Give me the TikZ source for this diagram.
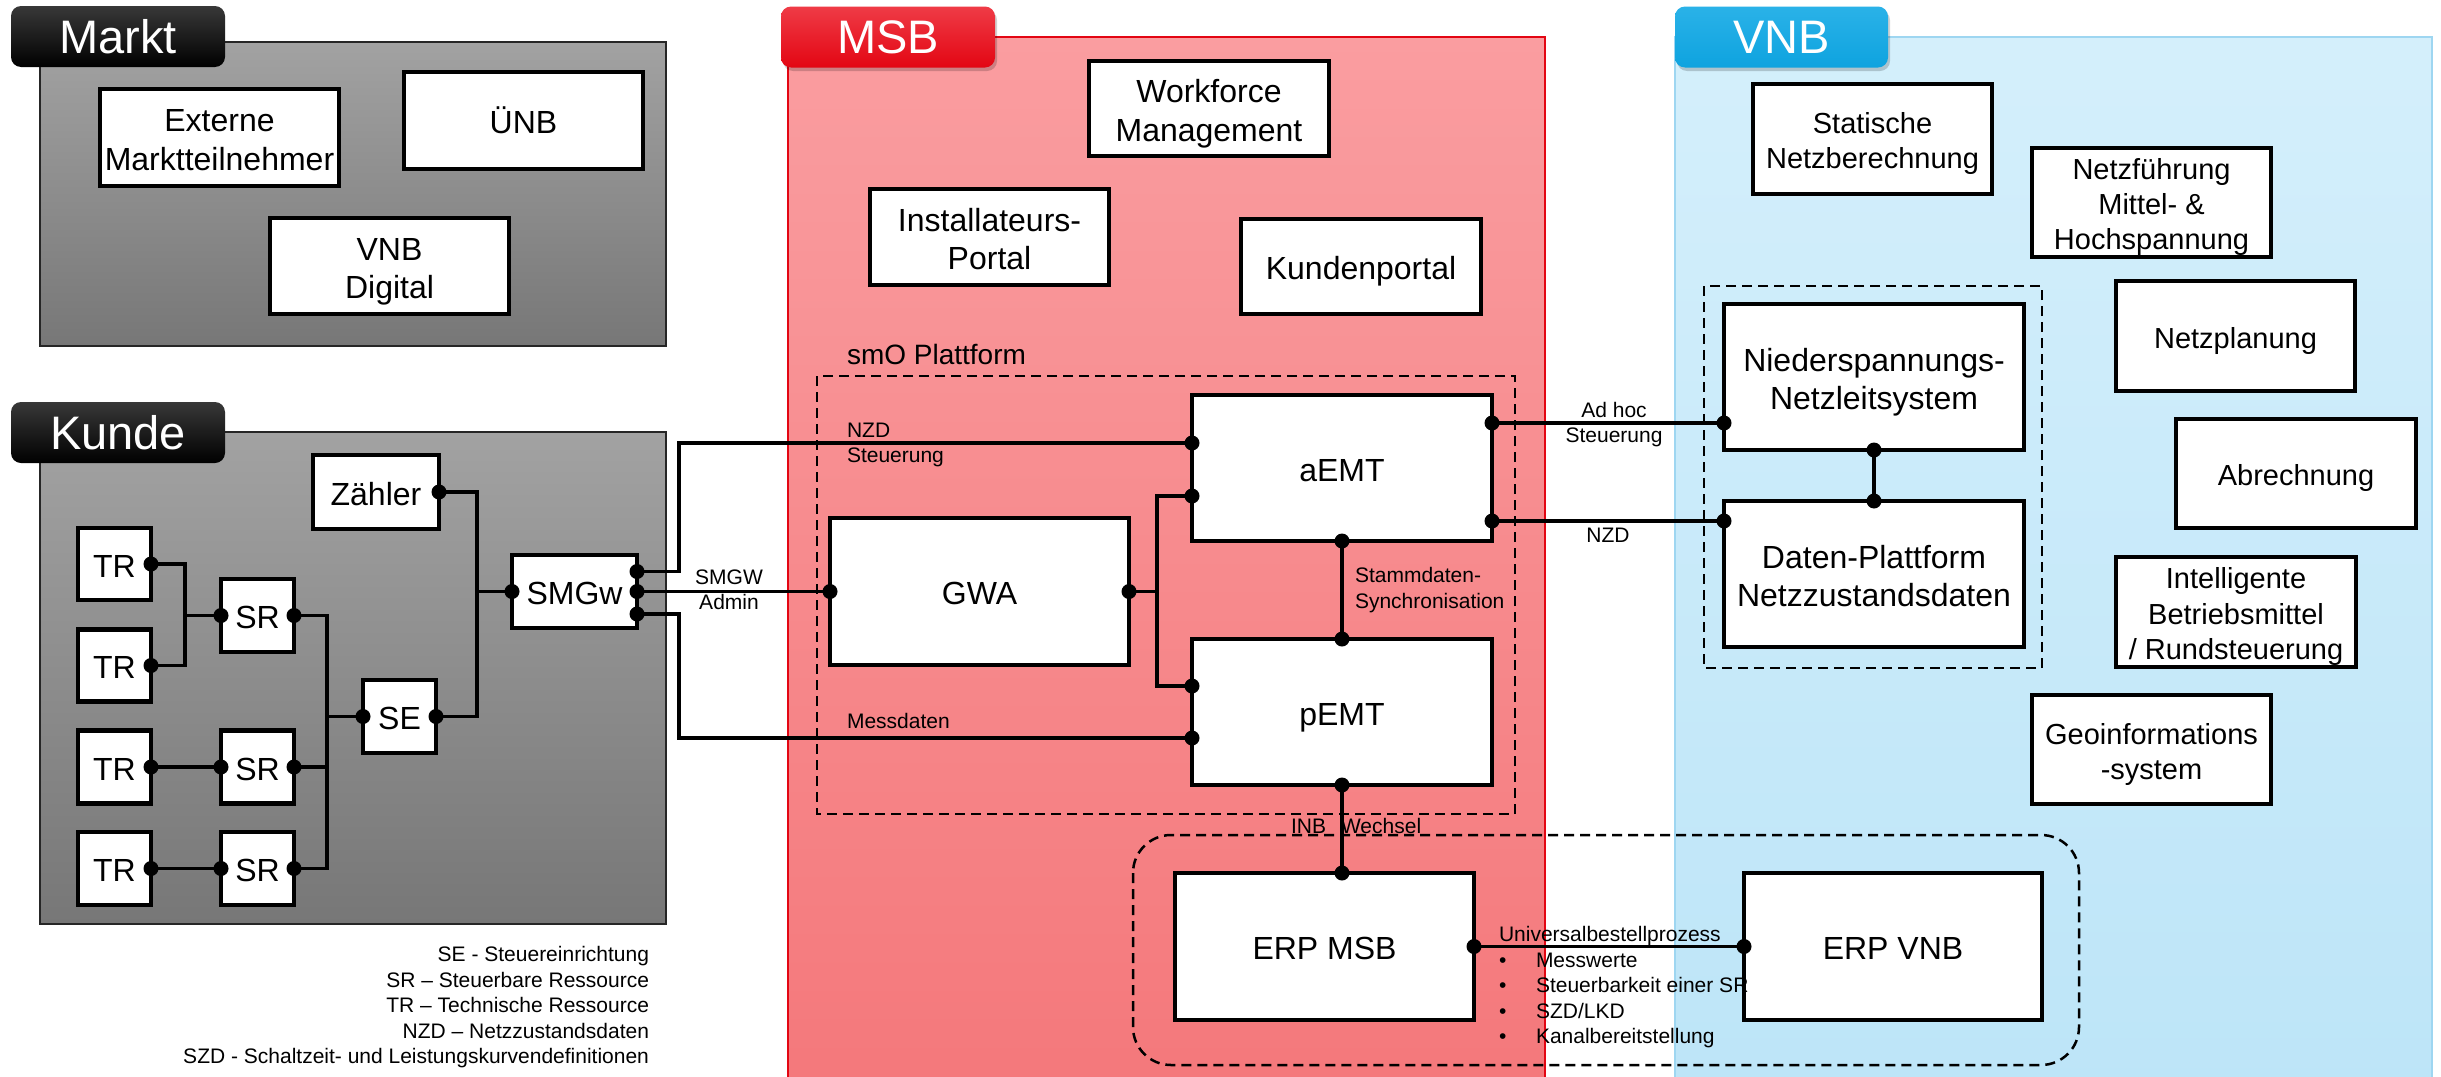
\documentclass[tikz,border=0pt]{standalone}
\usepackage{fontspec}
\setmainfont{Liberation Sans}
\usetikzlibrary{calc}
\definecolor{gT}{HTML}{A2A2A2}
\definecolor{gB}{HTML}{777777}
\definecolor{mT}{HTML}{FA9DA0}
\definecolor{mB}{HTML}{F4787B}
\definecolor{msbred}{HTML}{E30613}
\definecolor{msbredL}{HTML}{EF3B46}
\definecolor{vT}{HTML}{D4EFFB}
\definecolor{vB}{HTML}{BDE5F8}
\definecolor{vborder}{HTML}{9ED6F1}
\definecolor{vtab}{HTML}{0EA3DF}
\definecolor{vtabL}{HTML}{2AB2E8}
\newcommand\pdot[1]{\fill (#1) circle[radius=7.5pt];}
\newcommand\ts{\rule{0pt}{1.05em}}
\newcommand\ds{\rule[-0.212em]{0pt}{0.212em}}
\begin{document}
\begin{tikzpicture}[x=1pt,y=-1pt,
  tabbox/.style={rounded corners=10pt, inner sep=0pt, outer sep=0pt, text=white,
    font=\fontsize{47}{50}\selectfont, minimum height=61pt},
  tabshadow/.style={fill=black, opacity=0.18, rounded corners=10pt},
  box/.style={draw=black, line width=4.5pt, fill=white, inner sep=0pt, outer sep=0pt,
    align=center, font=\fontsize{32}{38.7}\selectfont},
  boxs/.style={box, font=\fontsize{29}{35.2}\selectfont},
  wire/.style={line width=3.5pt},
  dashbox/.style={draw=black, line width=2.5pt, dash pattern=on 10pt off 6pt},
  lbl/.style={font=\fontsize{21}{25.5}\selectfont, inner sep=0pt, outer sep=0pt},
]
\useasboundingbox (0,0) rectangle (2441,1076);
\fill[white] (0,0) rectangle (2441,1076);

% group backgrounds
\path[draw=black!85, line width=2.5pt, top color=gT, bottom color=gB] (40,42) rectangle (666,346);
\path[draw=black!85, line width=2.5pt, top color=gT, bottom color=gB] (40,432) rectangle (666,924);
\path[draw=msbred, line width=2.5pt, top color=mT, bottom color=mB] (788,37) rectangle (1545,1090);
\path[draw=vborder, line width=2.5pt, top color=vT, bottom color=vB] (1675,37) rectangle (2432,1090);

% tab shadows
\fill[tabshadow] (783,10) rectangle (997,71);
\fill[tabshadow] (1677,10) rectangle (1890,71);

% tabs
\node[tabbox, minimum width=214pt, top color=black!78, bottom color=black] (tmarkt) at (118,36.5) {Markt};
\node[tabbox, minimum width=214pt, top color=black!78, bottom color=black] (tkunde) at (118,432.5) {Kunde};
\node[tabbox, minimum width=214pt, top color=msbredL, bottom color=msbred] (tmsb) at (888,37) {MSB};
\node[tabbox, minimum width=213pt, top color=vtabL, bottom color=vtab] (tvnb) at (1781.5,37) {VNB};

% dashed groupings
\draw[dashbox] (817,376) rectangle (1515,814);
\draw[dashbox] (1704,286) rectangle (2042,668);
\draw[dashbox, rounded corners=38pt] (1133,835) rectangle (2079,1065);

% Markt boxes
\node[box, minimum width=239pt, minimum height=97pt] (ext) at (219.5,137.5) {\ts Externe\\Marktteilnehmer\ds};
\node[box, minimum width=239pt, minimum height=97pt] (uenb) at (523.5,120.5) {\ts ÜNB\ds};
\node[box, minimum width=239pt, minimum height=96pt] (vnbd) at (389.5,266) {\ts VNB\\Digital\ds};

% Kunde boxes
\node[box, minimum width=126pt, minimum height=74pt] (zaehler) at (376,492) {\ts Zähler\ds};
\node[box, minimum width=73pt, minimum height=72pt] (tr1) at (114.5,564) {\ts TR\ds};
\node[box, minimum width=73pt, minimum height=72pt] (tr2) at (114.5,665.5) {\ts TR\ds};
\node[box, minimum width=73pt, minimum height=73pt] (tr3) at (114.5,767) {\ts TR\ds};
\node[box, minimum width=73pt, minimum height=73pt] (tr4) at (114.5,868.5) {\ts TR\ds};
\node[box, minimum width=73pt, minimum height=73pt] (sr1) at (257.5,615.5) {\ts SR\ds};
\node[box, minimum width=73pt, minimum height=73pt] (sr2) at (257.5,767) {\ts SR\ds};
\node[box, minimum width=73pt, minimum height=73pt] (sr3) at (257.5,868.5) {\ts SR\ds};
\node[box, minimum width=73pt, minimum height=73pt] (se) at (399.5,716.5) {\ts SE\ds};
\node[box, minimum width=125pt, minimum height=73pt] (smgw) at (574.5,591.5) {\ts SMGw\ds};

% MSB boxes
\node[box, minimum width=240pt, minimum height=95pt] (wfm) at (1209,108.5) {\ts Workforce\\Management\ds};
\node[box, minimum width=239pt, minimum height=96pt] (inst) at (989.5,237) {\ts Installateurs-\\Portal\ds};
\node[box, minimum width=240pt, minimum height=95pt] (kp) at (1361,266.5) {\ts Kundenportal\ds};
\node[box, minimum width=300pt, minimum height=146pt] (aemt) at (1342,468) {\ts aEMT\ds};
\node[box, minimum width=299pt, minimum height=147pt] (gwa) at (979.5,591.5) {\ts GWA\ds};
\node[box, minimum width=300pt, minimum height=146pt] (pemt) at (1342,712) {\ts pEMT\ds};
\node[box, minimum width=299pt, minimum height=147pt] (erpm) at (1324.5,946.5) {\ts ERP MSB\ds};

% VNB boxes
\node[boxs, minimum width=239pt, minimum height=110pt] (stat) at (1872.5,139) {\ts Statische\\Netzberechnung\ds};
\node[boxs, minimum width=239pt, minimum height=109pt] (nf) at (2151.5,202.5) {\ts Netzführung\\Mittel- \&\\Hochspannung\ds};
\node[boxs, minimum width=239pt, minimum height=110pt] (np) at (2235.5,336) {\ts Netzplanung\ds};
\node[box, minimum width=300pt, minimum height=146pt] (ns) at (1874,377) {\ts Niederspannungs-\\Netzleitsystem\ds};
\node[box, minimum width=300pt, minimum height=146pt] (dp) at (1874,574) {\ts Daten-Plattform\\Netzzustandsdaten\ds};
\node[boxs, minimum width=240pt, minimum height=109pt] (abr) at (2296,473.5) {\ts Abrechnung\ds};
\node[boxs, minimum width=240pt, minimum height=110pt] (intel) at (2236,612) {\ts Intelligente\\Betriebsmittel\\/ Rundsteuerung\ds};
\node[boxs, minimum width=239pt, minimum height=109pt] (geo) at (2151.5,749.5) {\ts Geoinformations\\-system\ds};
\node[box, minimum width=298pt, minimum height=147pt] (erpv) at (1893,946.5) {\ts ERP VNB\ds};

% coordinates for connectors
\coordinate (k1) at (185,615.5);
\coordinate (k2) at (327,716.5);
\coordinate (k3) at (477,591.5);
\coordinate (s1) at ($(smgw.east)+(0,-20)$);
\coordinate (s3) at ($(smgw.east)+(0,22.5)$);
\coordinate (a1) at ($(aemt.west)+(0,-25)$);
\coordinate (a2) at ($(aemt.west)+(0,28)$);
\coordinate (p1) at ($(pemt.west)+(0,-26)$);
\coordinate (p2) at ($(pemt.west)+(0,26)$);
\coordinate (kx) at (679,591.5);
\coordinate (gx) at (1157,591.5);
\coordinate (a3) at ($(aemt.east)+(0,-45)$);
\coordinate (a4) at ($(aemt.east)+(0,53)$);
\coordinate (n1) at (a3 -| ns.west);
\coordinate (d1) at (a4 -| dp.west);
\coordinate (e1) at (pemt.south |- erpm.north);
\coordinate (sr2j) at (sr2.east -| k2);

% Kunde wiring
\draw[wire] (tr1.east) -| (k1) |- (tr2.east);
\draw[wire] (k1) -- (sr1.west);
\draw[wire] (sr1.east) -| (k2) |- (sr3.east);
\draw[wire] (sr2.east) -- (sr2j);
\draw[wire] (k2) -- (se.west);
\draw[wire] (tr3.east) -- (sr2.west);
\draw[wire] (tr4.east) -- (sr3.west);
\draw[wire] (se.east) -| (k3) |- (zaehler.east);
\draw[wire] (k3) -- (smgw.west);

% SMGw to MSB
\draw[wire] (s1) -| (kx |- a1) -- (a1);
\draw[wire] (smgw.east) -- (gwa.west);
\draw[wire] (s3) -| (kx |- p2) -- (p2);
\draw[wire] (gwa.east) -- (gx);
\draw[wire] (a2) -| (gx) |- (p1);
\draw[wire] (aemt.south) -- (pemt.north);
\draw[wire] (pemt.south) -- (e1);
\draw[wire] (a3) -- (n1);
\draw[wire] (a4) -- (d1);
\draw[wire] (ns.south) -- (dp.north);
\draw[wire] (erpm.east) -- (erpv.west);

% dots
\foreach \p in {tr1.east,tr2.east,tr3.east,tr4.east,sr1.west,sr1.east,sr2.west,sr2.east,
  sr3.west,sr3.east,se.west,se.east,zaehler.east,smgw.west,smgw.east,s1,s3,
  gwa.west,gwa.east,a1,a2,p1,p2,aemt.south,pemt.north,pemt.south,e1,a3,a4,n1,d1,
  ns.south,dp.north,erpm.east,erpv.west}{\pdot{\p}}

% labels
\node[lbl, font=\fontsize{28}{32}\selectfont, anchor=base west] (lsmo) at (847,364) {smO Plattform};
\node[lbl, align=left, anchor=north west] (lnzd) at (847,422.7) {NZD\\Steuerung};
\node[lbl, align=center, anchor=north] (lsmgw) at (729,569.7) {SMGW\\Admin};
\node[lbl, anchor=base west] (lmess) at (847,728) {Messdaten};
\node[lbl, align=left, anchor=north west] (lstamm) at (1355,567.7) {Stammdaten-\\Synchronisation};
\node[lbl, align=center, anchor=north, font=\fontsize{21}{25}\selectfont] (ladhoc) at (1614,402.7) {Ad hoc\\Steuerung};
\node[lbl, anchor=base] (lnzd2) at (1608,542) {NZD};
\node[lbl, anchor=base west] (linb) at (1291,833) {INB\hspace{15pt}Wechsel};
\node[lbl, align=left, anchor=north west] (lubp) at (1499,926.7) {Universalbestellprozess\\
\makebox[37pt][l]{\textbullet}Messwerte\\
\makebox[37pt][l]{\textbullet}Steuerbarkeit einer SR\\
\makebox[37pt][l]{\textbullet}SZD/LKD\\
\makebox[37pt][l]{\textbullet}Kanalbereitstellung};
\node[lbl, align=right, anchor=north east] (legend) at (649,946.7) {SE - Steuereinrichtung\\
SR – Steuerbare Ressource\\
TR – Technische Ressource\\
NZD – Netzzustandsdaten\\
SZD - Schaltzeit- und Leistungskurvendefinitionen};
\end{tikzpicture}
\end{document}
